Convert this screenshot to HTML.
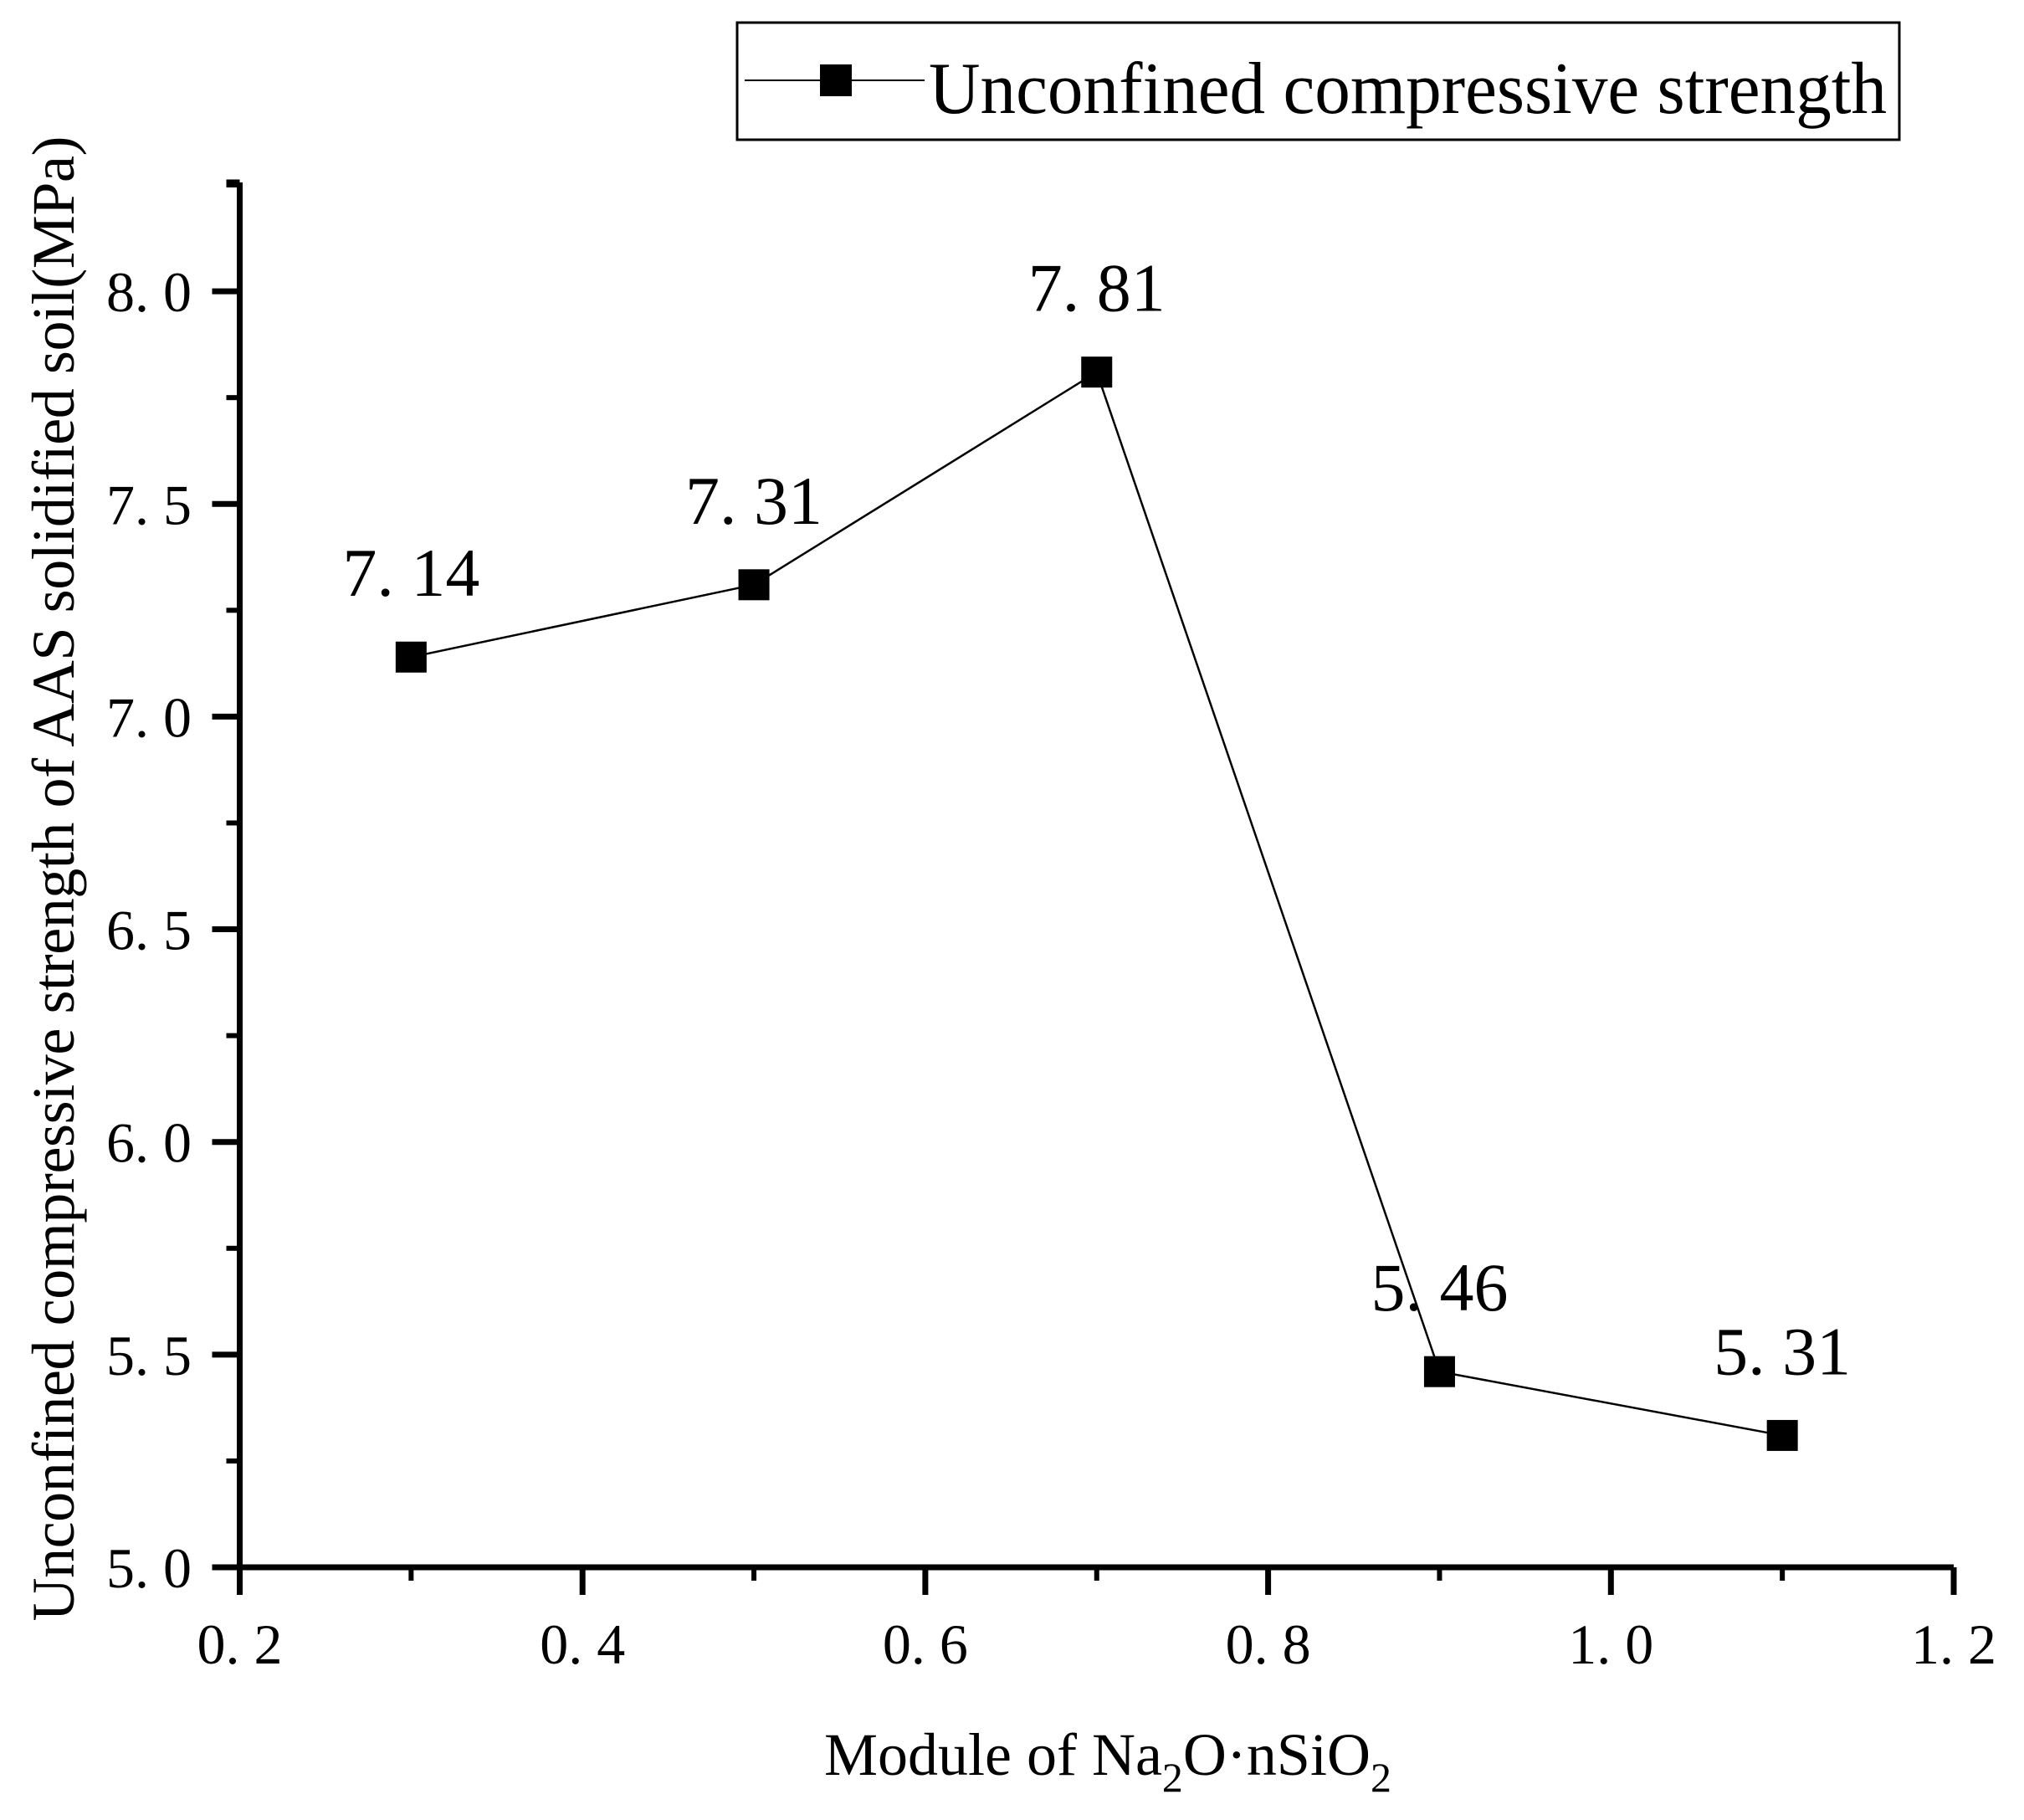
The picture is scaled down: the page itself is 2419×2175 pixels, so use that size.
<!DOCTYPE html>
<html><head><meta charset="utf-8"><style>
html,body{margin:0;padding:0;background:#fff;}
svg{display:block;}
text{font-family:"Liberation Serif","Noto Serif CJK SC",serif;fill:#000;white-space:pre;}
</style></head><body>
<svg id="chart" width="2419" height="2175" viewBox="0 0 2419 2175" xmlns="http://www.w3.org/2000/svg">
<g id="axes"></g>
<g id="series"></g>
<text x="985" y="2121" font-size="72">Module of Na<tspan dy="20" font-size="50">2</tspan><tspan dy="-20">O·nSiO</tspan><tspan dy="20" font-size="50">2</tspan></text>
<text transform="translate(88,1050) rotate(-90)" text-anchor="middle" font-size="72" textLength="1775" lengthAdjust="spacing">Unconfined compressive strength of AAS solidified soil(MPa)</text>
<g>
<rect x="881" y="27" width="1389" height="140" fill="none" stroke="#000" stroke-width="3"/>
<line x1="890" y1="96" x2="1105" y2="96" stroke="#000" stroke-width="2"/>
<rect x="980" y="77" width="38" height="38" fill="#000"/>
<text x="1110" y="135" font-size="88" textLength="1145" lengthAdjust="spacingAndGlyphs">Unconfined compressive strength</text>
</g>
</svg>
<script>
const categories = [0.3, 0.5, 0.7, 0.9, 1.1];
const strengthValues = [7.14, 7.31, 7.81, 5.46, 5.31];
const valueLabels = ["7. 14", "7. 31", "7. 81", "5. 46", "5. 31"];
const xTicks = [0.2, 0.4, 0.6, 0.8, 1.0, 1.2];
const xTickLabels = ["0. 2", "0. 4", "0. 6", "0. 8", "1. 0", "1. 2"];
const yTicks = [5.0, 5.5, 6.0, 6.5, 7.0, 7.5, 8.0];
const yTickLabels = ["5. 0", "5. 5", "6. 0", "6. 5", "7. 0", "7. 5", "8. 0"];

const NS = "http://www.w3.org/2000/svg";
const X0 = 286.5, X1 = 2335, XMIN = 0.2, XMAX = 1.2;
const Y0 = 1873, YMIN = 5.0, YPER = 508.3, YMAX = 8.256;
function sx(v){ return X0 + (v - XMIN) / (XMAX - XMIN) * (X1 - X0); }
function sy(v){ return Y0 - (v - YMIN) * YPER; }
function mk(tag, attrs, parent){ const e = document.createElementNS(NS, tag); for (const k in attrs) e.setAttribute(k, attrs[k]); parent.appendChild(e); return e; }

const axes = document.getElementById('axes');
let el = mk('line', {x1: sx(XMIN), y1: sy(YMAX), x2: sx(XMIN), y2: Y0 + 33, stroke:'#000','stroke-width':7}, axes);


el = mk('line', {x1: sx(XMIN) - 33, y1: Y0, x2: X1, y2: Y0, stroke:'#000','stroke-width':7}, axes);


el = mk('line', {x1: sx(XMIN) - 16, y1: sy(YMAX), x2: sx(XMIN), y2: sy(YMAX), stroke:'#000','stroke-width':7}, axes);


el = mk('line', {x1: X1, y1: Y0, x2: X1, y2: Y0 + 33, stroke:'#000','stroke-width':7}, axes);



xTicks.forEach((v, i) => {
  const x = sx(v);
  const t = mk('line', {x1:x, y1:Y0, x2:x, y2:Y0 + 33, stroke:'#000','stroke-width':7}, axes);
  
  
  const lb = mk('text', {x:x, y:1988, 'font-size':68, 'text-anchor':'middle'}, axes);
  lb.textContent = xTickLabels[i];
  
  
  if (i < xTicks.length - 1) {
    const mx = sx(v + (XMAX - XMIN) / (xTicks.length - 1) / 2);
    const m = mk('line', {x1:mx, y1:Y0, x2:mx, y2:Y0 + 16, stroke:'#000','stroke-width':6}, axes);
    
    
  }
});
yTicks.forEach((v, i) => {
  const y = sy(v);
  const t = mk('line', {x1:X0 - 33, y1:y, x2:X0, y2:y, stroke:'#000','stroke-width':7}, axes);
  
  
  const lb = mk('text', {x:229, y:y + 24, 'font-size':68, 'text-anchor':'end'}, axes);
  lb.textContent = yTickLabels[i];
  
  
  const my = sy(v + 0.25);
  const m = mk('line', {x1:X0 - 16, y1:my, x2:X0, y2:my, stroke:'#000','stroke-width':6}, axes);
  
  
});

const series = document.getElementById('series');
const pts = categories.map((c, i) => sx(c) + ',' + sy(strengthValues[i])).join(' ');
el = mk('polyline', {points: pts, fill:'none', stroke:'#000', 'stroke-width':2.5}, series);


categories.forEach((c, i) => {
  const x = sx(c), y = sy(strengthValues[i]);
  const r = mk('rect', {x:x - 18.5, y:y - 18.5, width:37, height:37, fill:'#000'}, series);
  
  
  const lb = mk('text', {x:x, y:y - 73, 'font-size':82, 'text-anchor':'middle'}, series);
  lb.textContent = valueLabels[i];
  
  
});
</script>
</body></html>
